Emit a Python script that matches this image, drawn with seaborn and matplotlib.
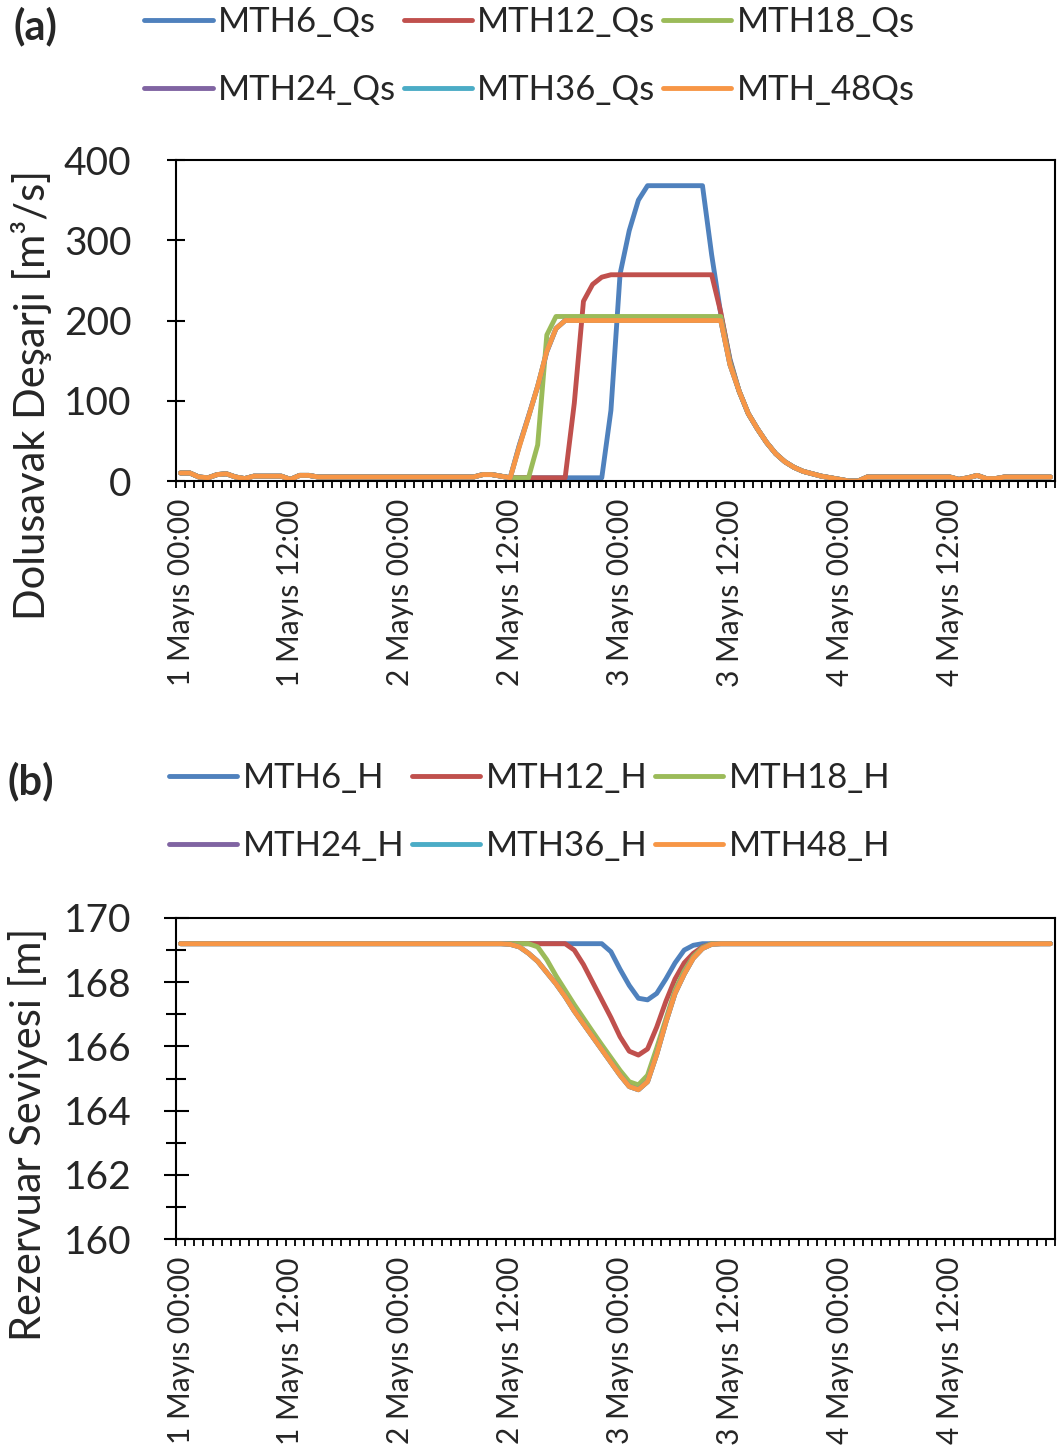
import numpy as np
import pandas as pd
import matplotlib
matplotlib.use("Agg")
import matplotlib.pyplot as plt
import seaborn as sns
from matplotlib.ticker import FixedLocator, MultipleLocator

# hourly time steps, 1 Mayıs 00:00 .. 4 Mayıs 23:00
hours = list(range(96))
tick_positions = [0, 12, 24, 36, 48, 60, 72, 84]
tick_labels = ["1 Mayıs 00:00", "1 Mayıs 12:00", "2 Mayıs 00:00", "2 Mayıs 12:00",
               "3 Mayıs 00:00", "3 Mayıs 12:00", "4 Mayıs 00:00", "4 Mayıs 12:00"]

qs_names = ["MTH6_Qs", "MTH12_Qs", "MTH18_Qs", "MTH24_Qs", "MTH36_Qs", "MTH_48Qs"]
h_names = ["MTH6_H", "MTH12_H", "MTH18_H", "MTH24_H", "MTH36_H", "MTH48_H"]
colors = ["#4F81BD", "#C0504D", "#9BBB59", "#8064A2", "#4BACC6", "#F79646"]

# spillway discharge [m3/s], one row per 12 hours
qs_mth6 = [10, 10, 5, 4, 8, 9, 5, 3, 6, 6, 6, 6,
           2, 7, 7, 5, 5, 5, 5, 5, 5, 5, 5, 5,
           5, 5, 5, 5, 5, 5, 5, 5, 5, 8, 8, 6,
           4, 4, 4, 4, 4, 4, 4, 4, 4, 4, 4, 88,
           258, 312, 350, 368, 368, 368, 368, 368, 368, 368, 282, 208,
           152, 112, 84, 65, 48, 34, 24, 17, 12, 9, 6, 4,
           2, 0, 0, 5, 5, 5, 5, 5, 5, 5, 5, 5,
           5, 2, 4, 7, 3, 3, 5, 5, 5, 5, 5, 5]
qs_mth12 = [10, 10, 5, 4, 8, 9, 5, 3, 6, 6, 6, 6,
            2, 7, 7, 5, 5, 5, 5, 5, 5, 5, 5, 5,
            5, 5, 5, 5, 5, 5, 5, 5, 5, 8, 8, 6,
            4, 4, 4, 4, 4, 4, 4, 97, 224, 245, 254, 257,
            257, 257, 257, 257, 257, 257, 257, 257, 257, 257, 257, 210,
            150, 112, 84, 65, 48, 34, 24, 17, 12, 9, 6, 4,
            2, 0, 0, 5, 5, 5, 5, 5, 5, 5, 5, 5,
            5, 2, 4, 7, 3, 3, 5, 5, 5, 5, 5, 5]
qs_mth18 = [10, 10, 5, 4, 8, 9, 5, 3, 6, 6, 6, 6,
            2, 7, 7, 5, 5, 5, 5, 5, 5, 5, 5, 5,
            5, 5, 5, 5, 5, 5, 5, 5, 5, 8, 8, 6,
            4, 4, 4, 45, 182, 205, 205, 205, 205, 205, 205, 205,
            205, 205, 205, 205, 205, 205, 205, 205, 205, 205, 205, 205,
            148, 112, 84, 65, 48, 34, 24, 17, 12, 9, 6, 4,
            2, 0, 0, 5, 5, 5, 5, 5, 5, 5, 5, 5,
            5, 2, 4, 7, 3, 3, 5, 5, 5, 5, 5, 5]
qs_mth24 = [10, 10, 5, 4, 8, 9, 5, 3, 6, 6, 6, 6,
            2, 7, 7, 5, 5, 5, 5, 5, 5, 5, 5, 5,
            5, 5, 5, 5, 5, 5, 5, 5, 5, 8, 8, 6,
            4, 45, 81, 118, 161, 190, 200, 200, 200, 200, 200, 200,
            200, 200, 200, 200, 200, 200, 200, 200, 200, 200, 200, 200,
            145, 112, 84, 65, 48, 34, 24, 17, 12, 9, 6, 4,
            2, 0, 0, 5, 5, 5, 5, 5, 5, 5, 5, 5,
            5, 2, 4, 7, 3, 3, 5, 5, 5, 5, 5, 5]
qs_mth36 = [10, 10, 5, 4, 8, 9, 5, 3, 6, 6, 6, 6,
            2, 7, 7, 5, 5, 5, 5, 5, 5, 5, 5, 5,
            5, 5, 5, 5, 5, 5, 5, 5, 5, 8, 8, 6,
            4, 44, 80, 118, 162, 190, 200, 200, 200, 200, 200, 200,
            200, 200, 200, 200, 200, 200, 200, 200, 200, 200, 200, 200,
            145, 112, 84, 65, 48, 34, 24, 17, 12, 9, 6, 4,
            2, 0, 0, 5, 5, 5, 5, 5, 5, 5, 5, 5,
            5, 2, 4, 7, 3, 3, 5, 5, 5, 5, 5, 5]
qs_mth48 = [10, 10, 5, 4, 8, 9, 5, 3, 6, 6, 6, 6,
            2, 7, 7, 5, 5, 5, 5, 5, 5, 5, 5, 5,
            5, 5, 5, 5, 5, 5, 5, 5, 5, 8, 8, 6,
            4, 43, 80, 118, 162, 190, 200, 200, 200, 200, 200, 200,
            200, 200, 200, 200, 200, 200, 200, 200, 200, 200, 200, 200,
            145, 112, 84, 65, 48, 34, 24, 17, 12, 9, 6, 4,
            2, 0, 0, 5, 5, 5, 5, 5, 5, 5, 5, 5,
            5, 2, 4, 7, 3, 3, 5, 5, 5, 5, 5, 5]

# reservoir level [m], one row per 12 hours
h_mth6 = [169.2] * 12 + [169.2] * 12 + [169.2] * 12 + \
    [169.2, 169.2, 169.2, 169.2, 169.2, 169.2, 169.2, 169.2, 169.2, 169.2, 169.2, 168.95] + \
    [168.4, 167.9, 167.5, 167.45, 167.65, 168.1, 168.6, 169.0, 169.15, 169.2, 169.2, 169.2] + \
    [169.2] * 12 + [169.2] * 12 + [169.2] * 12
h_mth12 = [169.2] * 12 + [169.2] * 12 + [169.2] * 12 + \
    [169.2, 169.2, 169.2, 169.2, 169.2, 169.2, 169.2, 169.0, 168.55, 168.0, 167.45, 166.9] + \
    [166.3, 165.85, 165.73, 165.92, 166.6, 167.4, 168.1, 168.6, 168.9, 169.1, 169.2, 169.2] + \
    [169.2] * 12 + [169.2] * 12 + [169.2] * 12
h_mth18 = [169.2] * 12 + [169.2] * 12 + [169.2] * 12 + \
    [169.2, 169.2, 169.2, 169.1, 168.7, 168.2, 167.75, 167.3, 166.88, 166.46, 166.05, 165.65] + \
    [165.25, 164.9, 164.8, 165.1, 165.95, 166.85, 167.75, 168.35, 168.8, 169.08, 169.2, 169.2] + \
    [169.2] * 12 + [169.2] * 12 + [169.2] * 12
h_mth24 = [169.2] * 12 + [169.2] * 12 + [169.2] * 12 + \
    [169.18, 169.1, 168.9, 168.65, 168.3, 167.95, 167.55, 167.1, 166.7, 166.3, 165.9, 165.5] + \
    [165.1, 164.75, 164.65, 164.9, 165.75, 166.75, 167.65, 168.25, 168.75, 169.05, 169.18, 169.2] + \
    [169.2] * 12 + [169.2] * 12 + [169.2] * 12
h_mth36 = [169.2] * 12 + [169.2] * 12 + [169.2] * 12 + \
    [169.18, 169.1, 168.9, 168.65, 168.3, 167.95, 167.55, 167.1, 166.7, 166.3, 165.9, 165.5] + \
    [165.1, 164.75, 164.65, 164.9, 165.75, 166.75, 167.65, 168.25, 168.75, 169.05, 169.18, 169.2] + \
    [169.2] * 12 + [169.2] * 12 + [169.2] * 12
h_mth48 = [169.2] * 12 + [169.2] * 12 + [169.2] * 12 + \
    [169.18, 169.1, 168.9, 168.65, 168.3, 167.95, 167.55, 167.1, 166.7, 166.3, 165.9, 165.5] + \
    [165.1, 164.75, 164.65, 164.9, 165.75, 166.75, 167.65, 168.25, 168.75, 169.05, 169.18, 169.2] + \
    [169.2] * 12 + [169.2] * 12 + [169.2] * 12

qs_series = [qs_mth6, qs_mth12, qs_mth18, qs_mth24, qs_mth36, qs_mth48]
h_series = [h_mth6, h_mth12, h_mth18, h_mth24, h_mth36, h_mth48]


def long_frame(names, series):
    rows = []
    for name, vals in zip(names, series):
        for t, v in zip(hours, vals):
            rows.append({"saat": t, "deger": v, "seri": name})
    return pd.DataFrame(rows)


sns.set_theme(style="white")
plt.rcParams["font.family"] = ["Lato", "DejaVu Sans"]
plt.rcParams["axes.edgecolor"] = "black"
plt.rcParams["axes.linewidth"] = 1.5

W, H = 1059, 1449
fig = plt.figure(figsize=(W / 100, H / 100), dpi=100)
ax_a = fig.add_axes([176 / W, 1 - 481 / H, 879 / W, 321 / H])
ax_b = fig.add_axes([176 / W, 1 - 1239 / H, 879 / W, 321 / H])

TICK_FS = 28
LABEL_FS = 30
XTICK_FS = 21.5


def draw_panel(ax, names, series):
    df = long_frame(names, series)
    sns.lineplot(data=df, x="saat", y="deger", hue="seri", hue_order=names,
                 palette=colors, linewidth=3.5, legend=False, ax=ax,
                 estimator=None, sort=False)
    for ln in ax.get_lines():
        ln.set_solid_joinstyle("round")
        ln.set_solid_capstyle("round")
    ax.set_xlim(-0.5, 95.5)
    ax.xaxis.set_major_locator(FixedLocator(tick_positions))
    ax.set_xticklabels(tick_labels, rotation=90, fontsize=XTICK_FS)
    ax.xaxis.set_minor_locator(FixedLocator(np.arange(-0.5, 96, 1.0)))
    ax.tick_params(axis="x", which="major", bottom=True, length=0, pad=13)
    ax.tick_params(axis="x", which="minor", bottom=True, direction="out",
                   length=5, width=1.3, color="black")
    ax.set_xlabel("")
    for sp in ax.spines.values():
        sp.set_visible(True)
        sp.set_color("black")
        sp.set_linewidth(1.5)
    return ax.get_lines()


lines_a = draw_panel(ax_a, qs_names, qs_series)
ax_a.set_ylim(0, 400)
ax_a.yaxis.set_major_locator(MultipleLocator(100))
ax_a.tick_params(axis="y", which="major", left=True, direction="inout",
                 length=13, width=1.5, pad=25.5, labelsize=TICK_FS, color="black")
ax_a.set_ylabel("Dolusavak Deşarjı [m³/s]", fontsize=LABEL_FS)
ax_a.yaxis.set_label_coords(-0.141, 0.268)

lines_b = draw_panel(ax_b, h_names, h_series)
ax_b.set_ylim(160, 170)
ax_b.yaxis.set_major_locator(MultipleLocator(2))
ax_b.yaxis.set_minor_locator(MultipleLocator(1))
ax_b.tick_params(axis="y", which="major", left=True, direction="inout",
                 length=18, width=1.5, pad=23, labelsize=TICK_FS, color="black")
ax_b.tick_params(axis="y", which="minor", left=True, direction="inout",
                 length=15, width=1.5, color="black")
ax_b.set_ylabel("Rezervuar Seviyesi [m]", fontsize=LABEL_FS)
ax_b.yaxis.set_label_coords(-0.1456, 0.327)

# legends: three columns, two rows, entries laid out row by row
order = [0, 3, 1, 4, 2, 5]
leg_kw = dict(loc="center", ncol=3, frameon=False, fontsize=25,
              handlelength=1.97, handletextpad=0.15, columnspacing=0.22,
              labelspacing=1.02, borderpad=0, borderaxespad=0)
fig.legend([lines_a[i] for i in order], [qs_names[i] for i in order],
           bbox_to_anchor=(529.5 / W, 1 - 56 / H), **leg_kw)
fig.legend([lines_b[i] for i in order], [h_names[i] for i in order],
           bbox_to_anchor=(529.5 / W, 1 - 812 / H), **leg_kw)

fig.text(35 / W, 1 - 26 / H, "(a)", ha="center", va="center",
         fontsize=30, fontweight="bold")
fig.text(31 / W, 1 - 781 / H, "(b)", ha="center", va="center",
         fontsize=30, fontweight="bold")

fig.savefig("out.png", dpi=100, facecolor="white")
